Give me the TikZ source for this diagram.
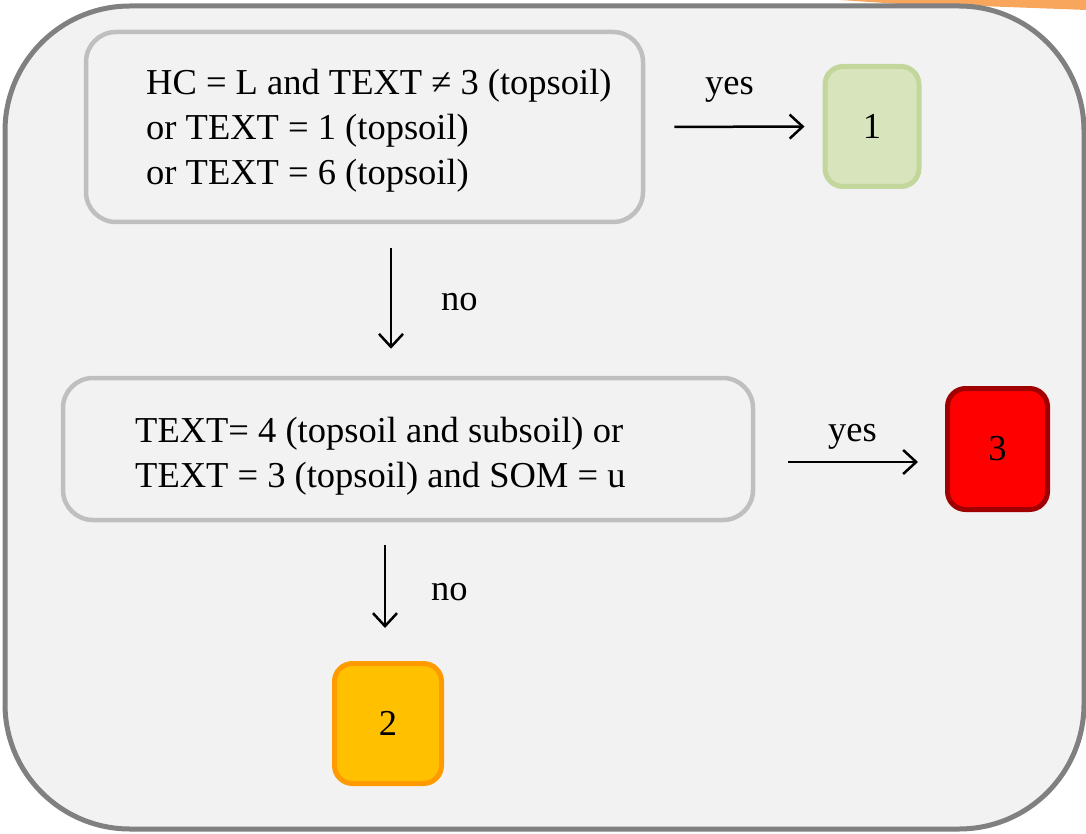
\documentclass[tikz,border=0pt]{standalone}
\usepackage{fontspec}
\setmainfont{Liberation Serif}
\usetikzlibrary{arrows.meta,calc}
\definecolor{bg}{HTML}{F2F2F2}
\definecolor{outerline}{HTML}{808080}
\definecolor{condline}{HTML}{BFBFBF}
\definecolor{greenfill}{HTML}{D8E4BC}
\definecolor{greenline}{HTML}{C3D69B}
\definecolor{redfill}{HTML}{FF0000}
\definecolor{redline}{HTML}{A00000}
\definecolor{orangefill}{HTML}{FFC000}
\definecolor{orangeline}{HTML}{FF9A00}
\definecolor{bandorange}{HTML}{F8A65C}
\begin{document}
\begin{tikzpicture}[x=1pt,y=-1pt,
  txt/.style={font=\fontsize{36.5}{45}\selectfont, inner sep=0pt, text=black},
  cond/.style={draw=condline, line width=4.5pt, rounded corners=30pt, fill=bg, rectangle},
  res/.style={line width=5pt, rounded corners=18pt, rectangle, font=\fontsize{36.5}{45}\selectfont, inner sep=0pt},
  arr/.style={line width=2.5pt, draw=black, -{Straight Barb[length=13pt,width=24pt]}}]
\useasboundingbox (0,0) rectangle (1086,834);
% orange band behind the frame
\fill[bandorange] (825,-1) -- (1087,-1) -- (1087,10) -- (980,6) -- (900,4) -- cycle;
% outer frame
\draw[draw=outerline, fill=bg, line width=5pt, rounded corners=125pt] (5,6) rectangle (1084,829);
% condition boxes
\node[cond, minimum width=557pt, minimum height=190pt] (q1) at (364.5,127) {};
\node[txt, anchor=west, align=left] (t1) at (146,131) {HC = L and TEXT ≠ 3 (topsoil)\\or TEXT = 1 (topsoil)\\or TEXT = 6 (topsoil)};
\node[cond, minimum width=690pt, minimum height=142pt] (q2) at (408,449) {};
\node[txt, anchor=west, align=left] (t2) at (135,456) {TEXT= 4 (topsoil and subsoil) or\\TEXT = 3 (topsoil) and SOM = u};
% result boxes
\node[res, draw=greenline, fill=greenfill, minimum width=94pt, minimum height=120pt] (r1) at (872,126.5) {1};
\node[res, draw=redline, fill=redfill, minimum width=100pt, minimum height=121pt] (r3) at (997.5,449) {3};
\node[res, draw=orangeline, fill=orangefill, minimum width=107pt, minimum height=120pt] (r2) at (388,723.5) {2};
% connectors
\draw[arr, shorten <=29pt, shorten >=18pt] (q1.east) -- (r1.west);
\draw[arr, shorten <=24pt, shorten >=27pt] ([xshift=26.5pt]q1.south) -- ([xshift=26.5pt]q1.south |- q2.north);
\draw[arr, shorten <=33pt, shorten >=27pt] ([yshift=-13pt]q2.east) -- ([yshift=-13pt]q2.east -| r3.west);
\draw[arr, shorten <=23pt, shorten >=33pt] ([xshift=-3pt]r2.north |- q2.south) -- ([xshift=-3pt]r2.north);
% labels
\node[txt, anchor=base west] (y1) at (705,95) {yes};
\node[txt, anchor=base west] (n1) at (441,310) {no};
\node[txt, anchor=base west] (y2) at (828,441) {yes};
\node[txt, anchor=base west] (n2) at (431,600) {no};
\end{tikzpicture}
\end{document}
